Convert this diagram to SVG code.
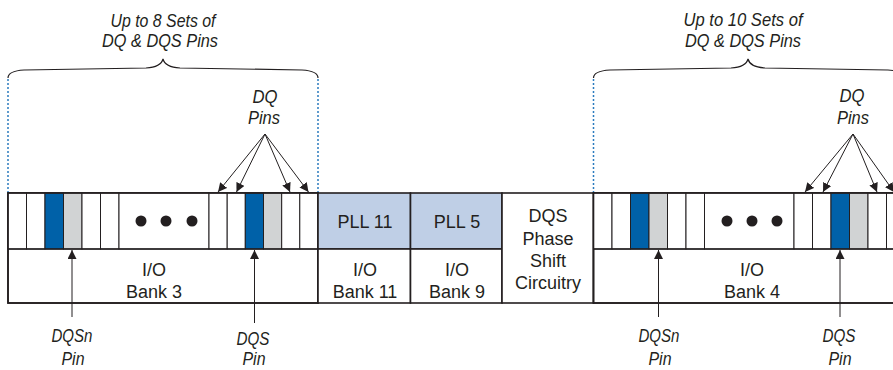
<svg xmlns="http://www.w3.org/2000/svg" width="893" height="370" viewBox="0 0 893 370">
<defs>
<style>
.frame{fill:#fff;stroke:#231f20;stroke-width:1.6}
.cell{fill:#fff;stroke:#231f20;stroke-width:1}
.blue{fill:#0061a8;stroke:#231f20;stroke-width:1}
.gray{fill:#d1d3d4;stroke:#231f20;stroke-width:1}
.pll{fill:#bfcfe6;stroke:#231f20;stroke-width:1.6}
.dot{fill:#231f20}
.lbl{font-family:"Liberation Sans",Arial,sans-serif;font-size:18px;fill:#231f20;text-anchor:middle}
.ital{font-family:"Liberation Sans",Arial,sans-serif;font-size:18.5px;font-style:italic;fill:#231f20;text-anchor:middle}
.arr{stroke:#231f20;stroke-width:1;fill:none;marker-end:url(#ah)}
.guide{stroke:#2b7bbf;stroke-width:1.5;stroke-dasharray:2 2;fill:none}
.brace{stroke:#231f20;stroke-width:1.2;fill:none}
</style>
<marker id="ah" viewBox="0 0 10 10" refX="10" refY="5" markerWidth="9" markerHeight="9" markerUnits="userSpaceOnUse" orient="auto">
<path d="M0,0 L10,5 L0,10 z" fill="#231f20"/>
</marker>
</defs>

<g id="labels-top">
<text class="ital" x="163" y="27" textLength="105" lengthAdjust="spacingAndGlyphs">Up to 8 Sets of</text>
<text class="ital" x="160" y="47" textLength="116" lengthAdjust="spacingAndGlyphs">DQ &amp; DQS Pins</text>
<text class="ital" x="743" y="26" textLength="119" lengthAdjust="spacingAndGlyphs">Up to 10 Sets of</text>
<text class="ital" x="743" y="47" textLength="116" lengthAdjust="spacingAndGlyphs">DQ &amp; DQS Pins</text>
<path class="brace" d="M8,78 Q8,71 24,70 L146,68 Q161,67 163,59 Q165,67 180,68 L302,70 Q318,71 318,78"/>
<path class="brace" d="M593.5,78 Q593.5,71 610,70 L731,68 Q746,67 748,59 Q750,67 765,68 L888,70 Q904,71 904,78"/>
<line class="guide" x1="8" y1="79" x2="8" y2="193"/>
<line class="guide" x1="318" y1="79" x2="318" y2="193"/>
<line class="guide" x1="593.5" y1="79" x2="593.5" y2="193"/>
</g>

<g id="bank3">
<rect class="frame" x="8" y="193" width="310" height="110"/>
<rect class="cell" x="8" y="193" width="18.5" height="56"/>
<rect class="cell" x="26.5" y="193" width="18.5" height="56"/>
<rect class="blue" x="45" y="193" width="18.5" height="56"/>
<rect class="gray" x="63.5" y="193" width="18.5" height="56"/>
<rect class="cell" x="82" y="193" width="18.5" height="56"/>
<rect class="cell" x="100.5" y="193" width="18.5" height="56"/>
<rect class="cell" x="119" y="193" width="90" height="56"/>
<circle class="dot" cx="141" cy="221" r="5.5"/>
<circle class="dot" cx="166" cy="221" r="5.5"/>
<circle class="dot" cx="192" cy="221" r="5.5"/>
<rect class="cell" x="209" y="193" width="18.2" height="56"/>
<rect class="cell" x="227.2" y="193" width="18.1" height="56"/>
<rect class="blue" x="245.3" y="193" width="18.2" height="56"/>
<rect class="gray" x="263.5" y="193" width="18.2" height="56"/>
<rect class="cell" x="281.7" y="193" width="18.1" height="56"/>
<rect class="cell" x="299.8" y="193" width="18.2" height="56"/>
<rect x="8" y="193" width="310" height="110" fill="none" stroke="#231f20" stroke-width="1.6"/>
<line x1="8" y1="249" x2="318" y2="249" stroke="#231f20" stroke-width="1.6"/>
<text class="lbl" x="154" y="276">I/O</text>
<text class="lbl" x="154" y="298">Bank 3</text>
</g>

<g id="bank11">
<rect class="pll" x="318" y="193" width="92.5" height="56"/>
<rect class="frame" x="318" y="249" width="92.5" height="54"/>
<text class="lbl" x="365" y="228">PLL 11</text>
<text class="lbl" x="365" y="276">I/O</text>
<text class="lbl" x="365" y="298">Bank 11</text>
</g>

<g id="bank9">
<rect class="pll" x="410.5" y="193" width="91.5" height="56"/>
<rect class="frame" x="410.5" y="249" width="91.5" height="54"/>
<text class="lbl" x="457" y="228">PLL 5</text>
<text class="lbl" x="457" y="276">I/O</text>
<text class="lbl" x="457" y="298">Bank 9</text>
</g>

<g id="dqs-phase-shift">
<rect class="frame" x="502" y="193" width="91.5" height="110"/>
<text class="lbl" x="548" y="222">DQS</text>
<text class="lbl" x="548" y="244.5">Phase</text>
<text class="lbl" x="548" y="267">Shift</text>
<text class="lbl" x="548" y="289">Circuitry</text>
</g>

<g id="bank4">
<rect class="frame" x="593.5" y="193" width="311.5" height="110"/>
<rect class="cell" x="593.5" y="193" width="18.5" height="56"/>
<rect class="cell" x="612" y="193" width="18.5" height="56"/>
<rect class="blue" x="630.5" y="193" width="18.5" height="56"/>
<rect class="gray" x="649" y="193" width="18.5" height="56"/>
<rect class="cell" x="667.5" y="193" width="18.5" height="56"/>
<rect class="cell" x="686" y="193" width="18.5" height="56"/>
<rect class="cell" x="704.5" y="193" width="89.5" height="56"/>
<circle class="dot" cx="727" cy="221" r="5.5"/>
<circle class="dot" cx="752" cy="221" r="5.5"/>
<circle class="dot" cx="777" cy="221" r="5.5"/>
<rect class="cell" x="794" y="193" width="18.5" height="56"/>
<rect class="cell" x="812.5" y="193" width="18.5" height="56"/>
<rect class="blue" x="831" y="193" width="18.5" height="56"/>
<rect class="gray" x="849.5" y="193" width="18.5" height="56"/>
<rect class="cell" x="868" y="193" width="18.5" height="56"/>
<rect class="cell" x="886.5" y="193" width="18.5" height="56"/>
<rect x="593.5" y="193" width="311.5" height="110" fill="none" stroke="#231f20" stroke-width="1.6"/>
<line x1="593.5" y1="249" x2="905" y2="249" stroke="#231f20" stroke-width="1.6"/>
<text class="lbl" x="752" y="276">I/O</text>
<text class="lbl" x="752" y="298">Bank 4</text>
</g>

<g id="connectors">
<line class="arr" x1="265" y1="134" x2="218" y2="192"/>
<line class="arr" x1="265" y1="134" x2="236.5" y2="192"/>
<line class="arr" x1="265" y1="134" x2="290" y2="192"/>
<line class="arr" x1="265" y1="134" x2="308.5" y2="192"/>
<line class="arr" x1="853" y1="134" x2="805" y2="192"/>
<line class="arr" x1="853" y1="134" x2="823" y2="192"/>
<line class="arr" x1="853" y1="134" x2="877" y2="192"/>
<line class="arr" x1="853" y1="134" x2="894" y2="192"/>
<line class="arr" x1="72" y1="317" x2="72" y2="250"/>
<line class="arr" x1="254.5" y1="323" x2="254.5" y2="250"/>
<line class="arr" x1="658.5" y1="317" x2="658.5" y2="250"/>
<line class="arr" x1="840" y1="317" x2="840" y2="250"/>
</g>

<g id="labels-pins">
<text class="ital" x="265" y="103" textLength="25" lengthAdjust="spacingAndGlyphs">DQ</text>
<text class="ital" x="264" y="124" textLength="32" lengthAdjust="spacingAndGlyphs">Pins</text>
<text class="ital" x="852" y="102" textLength="25" lengthAdjust="spacingAndGlyphs">DQ</text>
<text class="ital" x="853" y="124" textLength="32" lengthAdjust="spacingAndGlyphs">Pins</text>
<text class="ital" x="72" y="342" textLength="41" lengthAdjust="spacingAndGlyphs">DQSn</text>
<text class="ital" x="73" y="365" textLength="23" lengthAdjust="spacingAndGlyphs">Pin</text>
<text class="ital" x="253" y="345" textLength="33" lengthAdjust="spacingAndGlyphs">DQS</text>
<text class="ital" x="254" y="365" textLength="23" lengthAdjust="spacingAndGlyphs">Pin</text>
<text class="ital" x="659" y="342" textLength="41" lengthAdjust="spacingAndGlyphs">DQSn</text>
<text class="ital" x="660" y="365" textLength="23" lengthAdjust="spacingAndGlyphs">Pin</text>
<text class="ital" x="839" y="342" textLength="33" lengthAdjust="spacingAndGlyphs">DQS</text>
<text class="ital" x="840" y="365" textLength="23" lengthAdjust="spacingAndGlyphs">Pin</text>
</g>
</svg>
